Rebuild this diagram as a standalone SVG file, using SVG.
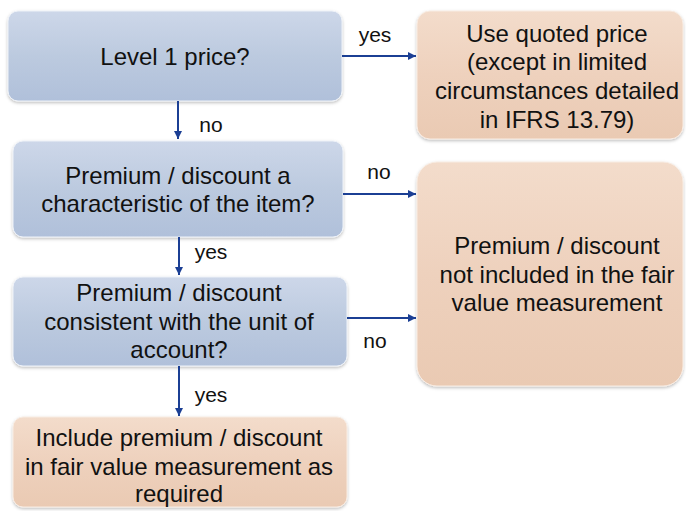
<svg xmlns="http://www.w3.org/2000/svg" width="686" height="511" viewBox="0 0 686 511">
<defs>
<linearGradient id="gBlue" x1="0" y1="0" x2="0" y2="1">
<stop offset="0" stop-color="#cdd7e9"/>
<stop offset="0.5" stop-color="#bccadf"/>
<stop offset="1" stop-color="#b0c0da"/>
</linearGradient>
<linearGradient id="gOrange" x1="0" y1="0" x2="0" y2="1">
<stop offset="0" stop-color="#f3dccb"/>
<stop offset="0.5" stop-color="#eed1bd"/>
<stop offset="1" stop-color="#eacab3"/>
</linearGradient>
<filter id="shadow" x="-10%" y="-10%" width="120%" height="125%">
<feDropShadow dx="0" dy="1.5" stdDeviation="1.5" flood-color="#000" flood-opacity="0.25"/>
</filter>
<marker id="arrow" markerUnits="userSpaceOnUse" markerWidth="9" markerHeight="8" refX="8" refY="4" orient="auto">
<path d="M0,0 L8,4 L0,8 Z" fill="#1b3f94"/>
</marker>
<style>
.blue{fill:url(#gBlue);stroke:#eef2f8;stroke-width:1;filter:url(#shadow)}
.orange{fill:url(#gOrange);stroke:#f8ece3;stroke-width:1;filter:url(#shadow)}
.t{font-family:"Liberation Sans",Arial,sans-serif;font-size:24px;fill:#111;text-anchor:middle}
.lbl{font-family:"Liberation Sans",Arial,sans-serif;font-size:21px;fill:#111;text-anchor:middle}
.conn{stroke:#1b3f94;stroke-width:2;fill:none;marker-end:url(#arrow)}
</style>
</defs>
<rect width="686" height="511" fill="#ffffff"/>
<g id="n1">
<rect class="blue" x="8" y="11" width="334" height="90" rx="10"/>
<text class="t" x="175" y="65">Level 1 price?</text>
</g>
<g id="n2">
<rect class="orange" x="417" y="11" width="266" height="128" rx="13"/>
<text class="t" x="557" y="42">Use quoted price</text>
<text class="t" x="557" y="70">(except in limited</text>
<text class="t" x="557" y="99">circumstances detailed</text>
<text class="t" x="557" y="128">in IFRS 13.79)</text>
</g>
<g id="n3">
<rect class="blue" x="13" y="141" width="330" height="96" rx="10"/>
<text class="t" x="178" y="184">Premium / discount a</text>
<text class="t" x="178" y="212">characteristic of the item?</text>
</g>
<g id="n4">
<rect class="orange" x="417" y="162" width="266" height="224" rx="20"/>
<text class="t" x="557" y="254">Premium / discount</text>
<text class="t" x="557" y="283">not included in the fair</text>
<text class="t" x="557" y="311">value measurement</text>
</g>
<g id="n5">
<rect class="blue" x="13" y="277" width="334" height="89" rx="10"/>
<text class="t" x="179" y="301">Premium / discount</text>
<text class="t" x="179" y="330">consistent with the unit of</text>
<text class="t" x="179" y="358">account?</text>
</g>
<g id="n6">
<rect class="orange" x="13" y="417" width="334" height="90" rx="10"/>
<text class="t" x="179" y="446">Include premium / discount</text>
<text class="t" x="179" y="475">in fair value measurement as</text>
<text class="t" x="179" y="502">required</text>
</g>
<g id="connectors">
<path class="conn" d="M342,56 H416"/>
<text class="lbl" x="375" y="42">yes</text>
<path class="conn" d="M178,101 V139"/>
<text class="lbl" x="211" y="132">no</text>
<path class="conn" d="M343,194 H416"/>
<text class="lbl" x="379" y="179">no</text>
<path class="conn" d="M179,237 V275"/>
<text class="lbl" x="211" y="259">yes</text>
<path class="conn" d="M347,318 H416"/>
<text class="lbl" x="375" y="348">no</text>
<path class="conn" d="M179,366 V416"/>
<text class="lbl" x="211" y="402">yes</text>
</g>
</svg>
